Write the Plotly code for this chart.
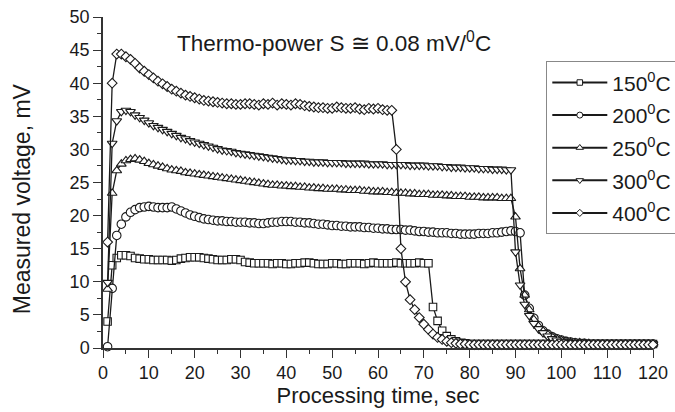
import plotly.graph_objects as go

time_s = list(range(1, 121))

v150 = [4.0, 12.5, 13.6, 14.0, 14.0, 13.9, 13.6, 13.5, 13.4, 13.4,
        13.3, 13.3, 13.3, 13.3, 13.2, 13.3, 13.5, 13.6, 13.7, 13.7,
        13.7, 13.6, 13.5, 13.4, 13.3, 13.3, 13.3, 13.4, 13.4, 13.3,
        13.0, 12.9, 12.8, 12.8, 12.8, 12.8, 12.7, 12.8, 12.8, 12.7,
        12.7, 12.8, 12.8, 12.9, 12.9, 12.8, 12.7, 12.7, 12.7, 12.8,
        12.8, 12.7, 12.7, 12.8, 12.8, 12.8, 12.7, 12.8, 12.9, 12.8,
        12.8, 12.8, 12.8, 12.9, 12.8, 12.8, 12.8, 12.8, 12.9, 12.8,
        12.8, 6.2, 4.1, 2.6, 1.8, 1.3, 1.0, 0.8, 0.7, 0.6,
        0.6, 0.6, 0.6, 0.6, 0.6, 0.6, 0.6, 0.6, 0.6, 0.6,
        0.6, 0.6, 0.6, 0.6, 0.6, 0.6, 0.6, 0.6, 0.6, 0.6,
        0.6, 0.6, 0.6, 0.6, 0.6, 0.6, 0.6, 0.6, 0.6, 0.6,
        0.6, 0.6, 0.6, 0.6, 0.6, 0.6, 0.6, 0.6, 0.6, 0.6]

v200 = [0.2, 9.0, 17.0, 18.7, 19.8, 20.5, 20.9, 21.2, 21.3, 21.4,
        21.3, 21.2, 21.2, 21.2, 21.3, 21.0, 20.7, 20.4, 20.1, 19.9,
        19.7, 19.5, 19.4, 19.3, 19.2, 19.2, 19.1, 19.1, 19.0, 19.0,
        19.0, 18.9, 18.9, 18.8, 18.8, 18.9, 19.0, 19.0, 19.1, 19.1,
        19.1, 19.0, 19.0, 18.9, 18.9, 18.8, 18.7, 18.7, 18.6, 18.5,
        18.5, 18.4, 18.4, 18.3, 18.3, 18.3, 18.2, 18.2, 18.1, 18.1,
        18.0, 18.0, 17.9, 17.9, 17.9, 17.8, 17.8, 17.7, 17.6, 17.6,
        17.5, 17.5, 17.4, 17.4, 17.4, 17.3, 17.3, 17.2, 17.2, 17.2,
        17.2, 17.3, 17.3, 17.3, 17.4, 17.4, 17.5, 17.6, 17.7, 17.6,
        17.4, 8.0, 6.0, 4.5, 3.4, 2.6, 2.1, 1.7, 1.4, 1.2,
        1.0, 0.9, 0.8, 0.7, 0.7, 0.6, 0.6, 0.6, 0.6, 0.6,
        0.6, 0.6, 0.6, 0.6, 0.6, 0.6, 0.6, 0.6, 0.6, 0.6]

v250 = [8.9, 23.4, 26.8, 27.8, 28.3, 28.5, 28.6, 28.4, 28.2, 27.9,
        27.7, 27.5, 27.3, 27.1, 26.9, 26.8, 26.7, 26.5, 26.4, 26.3,
        26.2, 26.1, 26.0, 25.9, 25.8, 25.7, 25.6, 25.5, 25.4, 25.3,
        25.2, 25.1, 25.0, 24.9, 24.8, 24.7, 24.6, 24.6, 24.5, 24.5,
        24.4, 24.4, 24.3, 24.3, 24.2, 24.2, 24.1, 24.1, 24.0, 24.0,
        24.0, 23.9, 23.9, 23.8, 23.8, 23.8, 23.7, 23.7, 23.6, 23.6,
        23.6, 23.5, 23.5, 23.4, 23.4, 23.4, 23.3, 23.3, 23.2, 23.2,
        23.2, 23.1, 23.1, 23.1, 23.0, 23.0, 22.9, 22.9, 22.9, 22.8,
        22.8, 22.8, 22.7, 22.7, 22.7, 22.7, 22.6, 22.6, 22.6, 19.8,
        12.0, 8.0, 5.8, 4.3, 3.3, 2.6, 2.1, 1.7, 1.4, 1.2,
        1.0, 0.9, 0.8, 0.8, 0.7, 0.7, 0.6, 0.6, 0.6, 0.6,
        0.6, 0.6, 0.6, 0.6, 0.6, 0.6, 0.6, 0.6, 0.6, 0.6]

v300 = [9.9, 30.9, 34.3, 35.7, 35.9, 35.7, 35.2, 34.8, 34.4, 34.0,
        33.6, 33.3, 33.0, 32.7, 32.4, 32.1, 31.8, 31.6, 31.3, 31.1,
        30.9, 30.7, 30.5, 30.3, 30.1, 29.9, 29.8, 29.7, 29.5, 29.4,
        29.3, 29.2, 29.1, 29.0, 28.9, 28.8, 28.7, 28.6, 28.5, 28.4,
        28.4, 28.3, 28.3, 28.2, 28.2, 28.1, 28.1, 28.1, 28.0, 28.0,
        28.0, 28.0, 27.9, 27.9, 27.9, 27.9, 27.9, 27.8, 27.8, 27.8,
        27.8, 27.7, 27.7, 27.7, 27.7, 27.7, 27.6, 27.6, 27.6, 27.6,
        27.5, 27.5, 27.5, 27.4, 27.4, 27.3, 27.3, 27.3, 27.2, 27.2,
        27.2, 27.1, 27.1, 27.1, 27.0, 27.0, 27.0, 26.9, 26.9, 14.5,
        9.5, 6.6, 4.9, 3.7, 2.9, 2.3, 1.8, 1.4, 1.2, 1.0,
        0.9, 0.8, 0.8, 0.7, 0.7, 0.6, 0.6, 0.6, 0.6, 0.6,
        0.6, 0.6, 0.6, 0.6, 0.6, 0.6, 0.6, 0.6, 0.6, 0.6]

v400 = [16.0, 40.0, 44.4, 44.4, 44.0, 43.6, 43.0, 42.3, 41.8, 41.3,
        40.8, 40.3, 39.9, 39.5, 39.1, 38.8, 38.5, 38.2, 38.0, 37.8,
        37.6, 37.4, 37.3, 37.2, 37.1, 37.0, 36.9, 36.9, 36.8, 36.8,
        36.9, 36.9, 36.8, 36.7, 36.9, 36.8, 37.0, 36.7, 36.9, 36.8,
        36.7, 36.9, 36.8, 36.6, 36.5, 36.4, 36.3, 36.3, 36.2, 36.2,
        36.4, 36.3, 36.2, 36.2, 36.3, 36.1, 36.0, 36.2, 36.1, 36.2,
        36.0, 35.9, 35.9, 30.0, 15.0, 10.0, 7.3, 5.8, 4.6, 3.6,
        2.8, 2.1, 1.6, 1.3, 1.0, 0.8, 0.7, 0.6, 0.6, 0.5,
        0.5, 0.5, 0.5, 0.5, 0.5, 0.5, 0.5, 0.5, 0.5, 0.5,
        0.5, 0.5, 0.5, 0.5, 0.5, 0.5, 0.5, 0.5, 0.5, 0.5,
        0.5, 0.5, 0.5, 0.5, 0.5, 0.5, 0.5, 0.5, 0.5, 0.5,
        0.5, 0.5, 0.5, 0.5, 0.5, 0.5, 0.5, 0.5, 0.5, 0.5]

series_names = ["150<sup>0</sup>C", "200<sup>0</sup>C", "250<sup>0</sup>C",
                "300<sup>0</sup>C", "400<sup>0</sup>C"]
series_values = [v150, v200, v250, v300, v400]
series_symbols = ["square", "circle", "triangle-up", "triangle-down", "diamond"]
series_sizes = [7.5, 8.5, 8.5, 8.5, 7.5]
legend_sizes = [5.5, 6, 6.5, 6.5, 5.5]

INK = "#1a1a1a"
FONT = "Liberation Sans, Arial, sans-serif"

fig = go.Figure()
for i, (name, vals, sym, sz) in enumerate(zip(series_names, series_values,
                                              series_symbols, series_sizes)):
    fig.add_trace(go.Scatter(
        x=time_s, y=vals, name=name, mode="lines+markers",
        legendgroup=f"g{i}", showlegend=False,
        line=dict(color=INK, width=1.3),
        marker=dict(symbol=sym, size=sz, color="white",
                    line=dict(color=INK, width=1.1)),
        cliponaxis=False,
    ))

# legend entries (smaller symbols, as in the original legend)
for i, (name, sym, lsz) in enumerate(zip(series_names, series_symbols, legend_sizes)):
    fig.add_trace(go.Scatter(
        x=[None], y=[None], name=name, mode="lines+markers",
        legendgroup=f"g{i}", showlegend=True,
        line=dict(color=INK, width=2),
        marker=dict(symbol=sym, size=lsz, color="white",
                    line=dict(color=INK, width=1)),
    ))

fig.add_annotation(
    text="Thermo-power S \u2245 0.08 mV/<sup>0</sup>C",
    xref="paper", yref="paper", x=0.131, y=0.9245,
    xanchor="left", yanchor="middle", showarrow=False,
    font=dict(family=FONT, size=22.5, color=INK),
)

# y-axis title (placed as in the original, slightly below the axis centre)
fig.add_annotation(
    text="Measured voltage, mV", textangle=-90,
    xref="paper", yref="paper", x=-0.147, y=0.45,
    xanchor="center", yanchor="middle", showarrow=False,
    font=dict(family=FONT, size=23, color=INK),
)

fig.update_layout(
    width=675, height=412,
    margin=dict(l=103, r=22, t=17, b=64, autoexpand=False),
    paper_bgcolor="white", plot_bgcolor="white",
    font=dict(family=FONT, color=INK),
    showlegend=True,
    legend=dict(
        x=0.806, y=0.866, xanchor="left", yanchor="top",
        bgcolor="white", bordercolor="#888", borderwidth=1,
        font=dict(family=FONT, size=21, color=INK),
        tracegroupgap=2.3, itemwidth=55,
    ),
    xaxis=dict(
        range=[0, 120], tickmode="linear", tick0=0, dtick=10,
        showgrid=False, zeroline=False,
        showline=True, linecolor="#333", linewidth=1.5,
        ticks="outside", ticklen=8, tickwidth=1.3, tickcolor="#333",
        tickfont=dict(family=FONT, size=18, color=INK),
        minor=dict(dtick=5, ticks="outside", ticklen=4, tickwidth=1.2, tickcolor="#333", showgrid=False),
        title=dict(text="Processing time, sec", font=dict(family=FONT, size=22, color=INK), standoff=4),
    ),
    yaxis=dict(
        range=[0, 50], tickmode="linear", tick0=0, dtick=5,
        showgrid=False, zeroline=False,
        showline=True, linecolor="#333", linewidth=1.5,
        ticks="outside", ticklen=8, tickwidth=1.3, tickcolor="#333",
        tickfont=dict(family=FONT, size=18, color=INK),
        minor=dict(dtick=2.5, ticks="outside", ticklen=4, tickwidth=1.2, tickcolor="#333", showgrid=False),
    ),
)

fig.write_html("out.html")
